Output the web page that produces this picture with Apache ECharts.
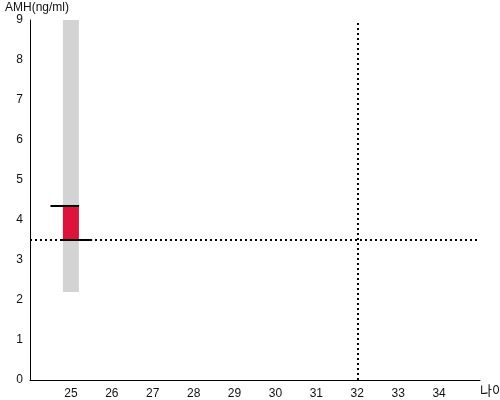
<!DOCTYPE html>
<html>
<head>
<meta charset="utf-8">
<script src="https://cdn.jsdelivr.net/npm/echarts@6/dist/echarts.min.js"></script>
<style>html,body{margin:0;padding:0;background:#fff}#c{width:500px;height:400px}</style>
</head>
<body>
<div id="c"></div>
<script>
// Data
const xTickLabels = [25, 26, 27, 28, 29, 30, 31, 32, 33, 34];
const yTickLabels = [0, 1, 2, 3, 4, 5, 6, 7, 8, 9];
const grayRange = [[25, 2.2, 9]];        // [x, low, high]
const redRange = [[25, 3.5, 4.35]];      // [x, low, high]
const segments = [[24.5, 25.2, 4.35], [24.78, 25.52, 3.5]]; // [xStart, xEnd, y]
const refY = 3.5;
const refX = 32;

const chart = echarts.init(document.getElementById('c'));

function rangeRender(color) {
  return function (params, api) {
    const x = api.value(0), lo = api.value(1), hi = api.value(2);
    const p1 = api.coord([x, hi]);
    const p2 = api.coord([x, lo]);
    return {
      type: 'rect',
      shape: { x: p1[0] - 8, y: p1[1], width: 16, height: p2[1] - p1[1] },
      style: { fill: color }
    };
  };
}

chart.setOption({
  animation: false,
  grid: { left: 30, right: 20, top: 20, bottom: 20, containLabel: false, outerBoundsMode: 'none' },
  xAxis: {
    type: 'value', min: 24, max: 35, interval: 1,
    name: '나이', nameLocation: 'end', nameGap: 0,
    nameTextStyle: { color: '#111', fontSize: 13, align: 'left', verticalAlign: 'top', padding: [4, 0, 0, 0], fontFamily: 'Noto Sans CJK KR' },
    axisLine: { show: true, lineStyle: { color: '#000', width: 1 } },
    axisTick: { show: false },
    splitLine: { show: false },
    axisLabel: {
      color: '#111', fontSize: 12, margin: 8, fontFamily: 'Arial, Liberation Sans',
      formatter: v => xTickLabels.indexOf(v) >= 0 ? String(v) : ''
    }
  },
  yAxis: {
    type: 'value', min: 0, max: 9, interval: 1,
    name: 'AMH(ng/ml)', nameLocation: 'end', nameGap: 6,
    nameTextStyle: { color: '#111', fontSize: 12, align: 'left', padding: [0, 0, 0, -25], fontFamily: 'Arial, Liberation Sans' },
    axisLine: { show: true, lineStyle: { color: '#000', width: 1 } },
    axisTick: { show: false },
    splitLine: { show: false },
    axisLabel: {
      color: '#111', fontSize: 12, margin: 7, fontFamily: 'Arial, Liberation Sans',
      formatter: v => yTickLabels.indexOf(v) >= 0 ? String(v) : ''
    }
  },
  series: [
    {
      type: 'custom', data: grayRange, renderItem: rangeRender('#d3d3d3'), z: 1,
      markLine: {
        silent: true, symbol: 'none', label: { show: false },
        lineStyle: { color: '#000', type: [2, 3], width: 2 },
        data: [{ yAxis: refY }, { xAxis: refX }]
      }
    },
    { type: 'custom', data: redRange, renderItem: rangeRender('#dc143c'), z: 2 },
    {
      type: 'custom', data: segments, z: 4,
      renderItem: function (params, api) {
        const a = api.coord([api.value(0), api.value(2)]);
        const b = api.coord([api.value(1), api.value(2)]);
        return { type: 'line', shape: { x1: a[0], y1: a[1], x2: b[0], y2: b[1] }, style: { stroke: '#000', lineWidth: 2 } };
      }
    }
  ]
});
</script>
</body>
</html>
